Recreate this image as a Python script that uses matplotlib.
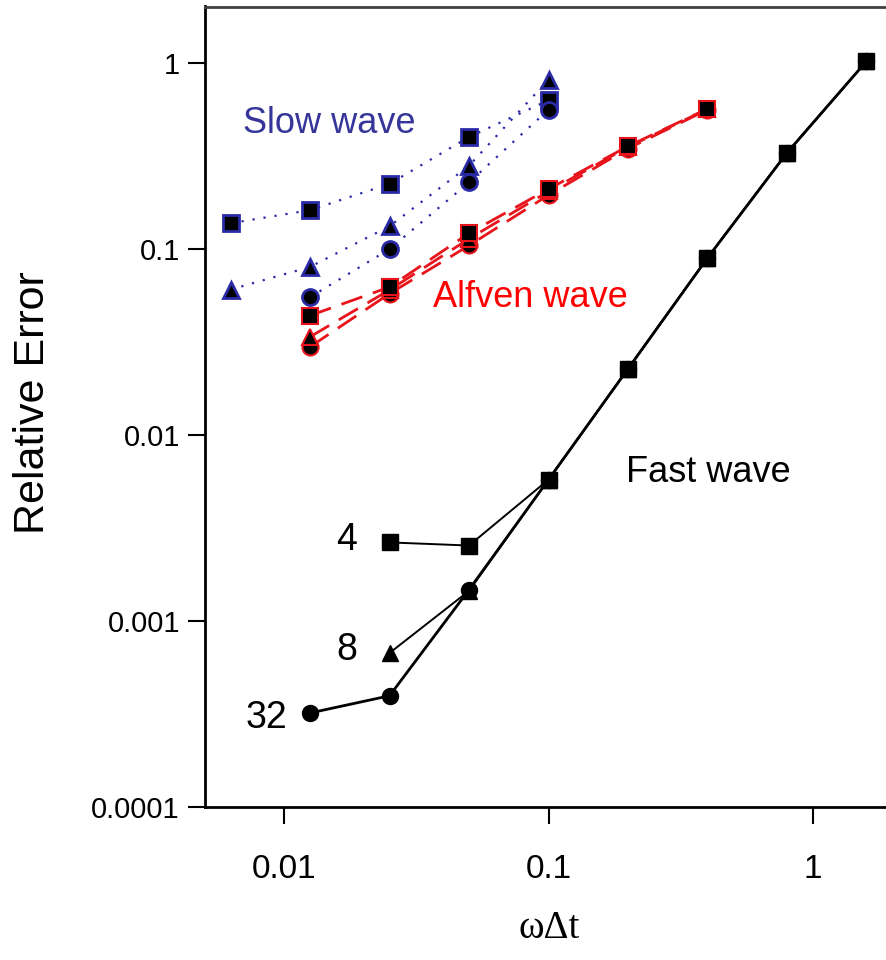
import matplotlib
matplotlib.use("Agg")
import matplotlib.pyplot as plt

plt.rcParams["font.family"] = ["Liberation Sans", "DejaVu Sans"]

################################################
# Data
################################################

# slow wave, blue dotted
slow_x = [0.00625, 0.0125, 0.025, 0.05, 0.1]
slow_sq = [0.137, 0.161, 0.223, 0.398, 0.627]
slow_tri = [0.0603, 0.0798, 0.132, 0.279, 0.809]
slow_circ_x = [0.0125, 0.025, 0.05, 0.1]
slow_circ = [0.0549, 0.0995, 0.227, 0.558]

# alfven wave, red dashed
alf_x = [0.0125, 0.025, 0.05, 0.1, 0.2, 0.4]
alf_sq = [0.0437, 0.0622, 0.121, 0.209, 0.355, 0.564]
alf_tri = [0.0336, 0.0600, 0.113, 0.203, 0.352, 0.562]
alf_circ = [0.0297, 0.0573, 0.104, 0.194, 0.345, 0.558]

# fast wave, black solid (4, 8, 32)
fast_x = [0.025, 0.05, 0.1, 0.2, 0.4, 0.8, 1.6]
fast_sq = [0.00264, 0.00254, 0.00574, 0.0226, 0.0891, 0.327, 1.015]
fast_tri = [0.000672, 0.00145, 0.00574, 0.0226, 0.0891, 0.327, 1.015]
fast_circ_x = [0.0125, 0.025, 0.05, 0.1, 0.2, 0.4, 0.8, 1.6]
fast_circ = [0.00032, 0.000396, 0.00147, 0.00574, 0.0226, 0.0891, 0.327, 1.015]

x_ticks = [0.01, 0.1, 1]
x_tick_labels = ["0.01", "0.1", "1"]
y_ticks = [0.0001, 0.001, 0.01, 0.1, 1]
y_tick_labels = ["0.0001", "0.001", "0.01", "0.1", "1"]

################################################
# Plot
################################################

BLUE = "#2a2aa6"
SLOW_TEXT = "#35359a"
RED = "#e8141c"

fig = plt.figure(figsize=(8.87, 9.6), dpi=100)
ax = fig.add_axes([205 / 887, 153 / 960, 687 / 887, 800.5 / 960])

ms = 11.5
slow_ls = (0, (1, 4))
for x, y, m in [(slow_x, slow_sq, "s"), (slow_x, slow_tri, "^"),
                (slow_circ_x, slow_circ, "o")]:
    ax.plot(x, y, linestyle=slow_ls, color=BLUE, lw=1.6,
            marker=m, markersize=ms, markerfacecolor="black",
            markeredgecolor=BLUE, markeredgewidth=2)

alf_ls = (0, (8, 4))
for y, m in [(alf_circ, "o"), (alf_tri, "^"), (alf_sq, "s")]:
    ax.plot(alf_x, y, linestyle=alf_ls, color=RED, lw=2,
            marker=m, markersize=ms, markerfacecolor="black",
            markeredgecolor=RED, markeredgewidth=1.5)

for x, y, m, lw in [(fast_circ_x, fast_circ, "o", 2.0),
                    (fast_x, fast_tri, "^", 1.4),
                    (fast_x, fast_sq, "s", 1.4)]:
    ax.plot(x, y, linestyle="-", color="black", lw=lw,
            marker=m, markersize=ms, markerfacecolor="black",
            markeredgecolor="black")

ax.set_xscale("log")
ax.set_yscale("log")
ax.set_xlim(0.005, 2)
ax.set_ylim(0.0001, 2)

ax.set_xticks(x_ticks)
ax.set_xticklabels(x_tick_labels)
ax.set_yticks(y_ticks)
ax.set_yticklabels(y_tick_labels)
ax.minorticks_off()
ax.tick_params(axis="x", direction="out", length=12, width=1.5,
               labelsize=24, pad=22)
ax.tick_params(axis="y", direction="out", length=12, width=1.5,
               labelsize=21, pad=6)

ax.spines["right"].set_visible(False)
for side in ["left", "bottom", "top"]:
    ax.spines[side].set_linewidth(2)
ax.spines["top"].set_color("#404040")

# annotations
ax.text(0.00694, 0.47, "Slow wave", color=SLOW_TEXT, fontsize=26,
        ha="left", va="center")
ax.text(0.0364, 0.0546, "Alfven wave", color="red", fontsize=26,
        ha="left", va="center")
ax.text(0.197, 0.00625, "Fast wave", color="black", fontsize=26,
        ha="left", va="center")
ax.text(0.01718, 0.00273, "4", fontsize=27, ha="center", va="center")
ax.text(0.01718, 0.0007, "8", fontsize=27, ha="center", va="center")
ax.text(0.00855, 0.000302, "32", fontsize=27, ha="center", va="center")

fig.text(549 / 887, 1 - 928 / 960, "\u03c9\u0394t", fontsize=28,
         family=["Liberation Serif", "DejaVu Serif"], ha="center", va="center")
fig.text(33 / 887, 1 - 403 / 960, "Relative Error", fontsize=31,
         rotation=90, ha="center", va="center")

fig.savefig("out.png", dpi=100)
plt.close(fig)
